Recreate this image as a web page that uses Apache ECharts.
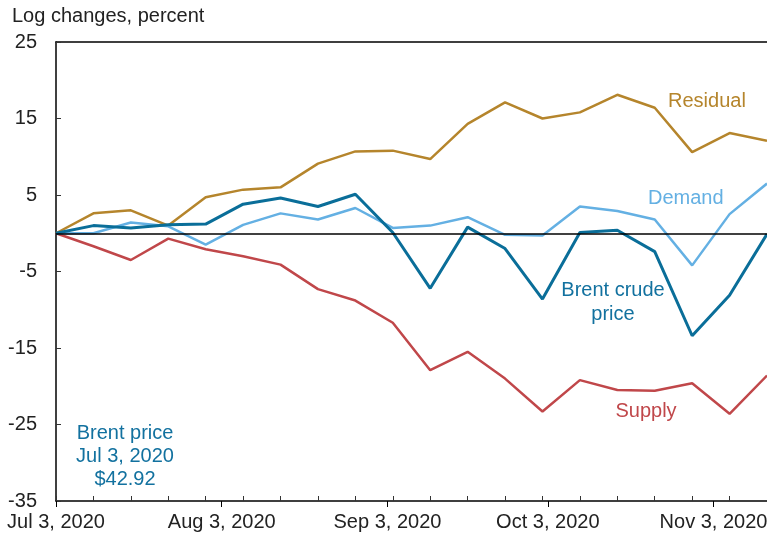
<!DOCTYPE html>
<html>
<head>
    <meta charset="utf-8">
    <title>Brent crude price decomposition</title>
    <script src="https://cdn.jsdelivr.net/npm/echarts@6/dist/echarts.min.js"></script>
    <style>
        html, body { margin: 0; padding: 0; background: #fff; }
        #main { width: 767px; height: 537px; }
    </style>
</head>
<body>
<div id="main"></div>
<script>
    // weekly observations (Fridays)
    var dates = ['2020-07-03', '2020-07-10', '2020-07-17', '2020-07-24', '2020-07-31',
        '2020-08-07', '2020-08-14', '2020-08-21', '2020-08-28', '2020-09-04',
        '2020-09-11', '2020-09-18', '2020-09-25', '2020-10-02', '2020-10-09',
        '2020-10-16', '2020-10-23', '2020-10-30', '2020-11-06', '2020-11-13'];
    var residual = [0, 2.6, 3.0, 1.0, 4.7, 5.7, 6.0, 9.1, 10.7, 10.8,
        9.7, 14.3, 17.1, 15.0, 15.8, 18.1, 16.4, 10.6, 13.1, 12.1];
    var demand = [0, 0, 1.4, 0.9, -1.5, 1.1, 2.6, 1.8, 3.3, 0.7,
        1.0, 2.1, -0.2, -0.3, 3.5, 2.9, 1.8, -4.2, 2.5, 6.5];
    var brent = [0, 1.0, 0.7, 1.1, 1.2, 3.8, 4.6, 3.5, 5.1, 0.1,
        -7.2, 0.8, -2.0, -8.6, 0.1, 0.4, -2.4, -13.4, -8.1, -0.1];
    var supply = [0, -1.7, -3.5, -0.7, -2.1, -3.0, -4.1, -7.3, -8.8, -11.7,
        -17.9, -15.5, -19.0, -23.3, -19.2, -20.5, -20.6, -19.6, -23.6, -18.6];
    var labelDates = ['2020-07-03', '2020-08-03', '2020-09-03', '2020-10-03', '2020-11-03'];

    var FONT = "'Liberation Sans', Arial, sans-serif";
    var monthNames = ['Jan', 'Feb', 'Mar', 'Apr', 'May', 'Jun', 'Jul', 'Aug', 'Sep', 'Oct', 'Nov', 'Dec'];
    var DAY = 86400000;

    function utc(s) {
        var p = s.split('-');
        return Date.UTC(+p[0], +p[1] - 1, +p[2]);
    }
    // x is measured in days from the first observation
    var t0 = utc(dates[0]);
    function dayNum(s) { return Math.round((utc(s) - t0) / DAY); }
    function pairs(arr) {
        return dates.map(function (d, i) { return [dayNum(d), arr[i]]; });
    }

    var weekDays = dates.map(dayNum);
    var labelDays = labelDates.map(dayNum);
    var xMin = weekDays[0], xMax = weekDays[weekDays.length - 1];

    function fmtDay(v) {
        var d = new Date(t0 + v * DAY);
        return monthNames[d.getUTCMonth()] + ' ' + d.getUTCDate() + ', ' + d.getUTCFullYear();
    }

    function lineSeries(name, arr, color, width) {
        return {
            name: name,
            type: 'line',
            xAxisIndex: 0,
            data: pairs(arr),
            showSymbol: false,
            symbol: 'none',
            color: color,
            lineStyle: { color: color, width: width },
            animation: false
        };
    }

    var chart = echarts.init(document.getElementById('main'));

    var series = [
        lineSeries('Supply', supply, '#C0474A', 2.5),
        lineSeries('Residual', residual, '#B5852C', 2.5),
        lineSeries('Demand', demand, '#64B0E3', 2.5),
        lineSeries('Brent crude price', brent, '#0A6E99', 3)
    ];
    // zero line
    series[3].markLine = {
        silent: true,
        symbol: 'none',
        label: { show: false },
        lineStyle: { color: '#000', width: 1.5, type: 'solid' },
        data: [{ yAxis: 0 }],
        animation: false
    };

    chart.setOption({
        animation: false,
        textStyle: { fontFamily: FONT },
        title: {
            text: 'Log changes, percent',
            left: 7,
            top: 1,
            textStyle: { fontSize: 20, fontWeight: 'normal', color: '#222', fontFamily: FONT }
        },
        grid: { left: 56, right: 0, top: 42, bottom: 36, containLabel: false, outerBoundsMode: 'none' },
        xAxis: [{
            type: 'value',
            position: 'bottom',
            min: xMin,
            max: xMax,
            axisLine: { onZero: false, lineStyle: { color: '#000', width: 1.5 } },
            axisTick: { show: true, customValues: labelDays, length: 6, lineStyle: { color: '#000', width: 1 } },
            axisLabel: {
                customValues: labelDays,
                fontSize: 20,
                color: '#222',
                margin: 11,
                fontFamily: FONT,
                formatter: fmtDay
            },
            splitLine: { show: false }
        }, {
            // weekly inner ticks
            type: 'value',
            position: 'bottom',
            min: xMin,
            max: xMax,
            axisLine: { show: false, onZero: false },
            axisTick: { show: true, inside: true, customValues: weekDays, length: 5, lineStyle: { color: '#333', width: 1 } },
            axisLabel: { show: false },
            splitLine: { show: false }
        }, {
            // top border
            type: 'value',
            position: 'top',
            min: xMin,
            max: xMax,
            axisLine: { show: true, onZero: false, lineStyle: { color: '#000', width: 1.5 } },
            axisTick: { show: false },
            axisLabel: { show: false },
            splitLine: { show: false }
        }],
        yAxis: {
            type: 'value',
            min: -35,
            max: 25,
            interval: 10,
            axisLine: { show: true, onZero: false, lineStyle: { color: '#000', width: 1.5 } },
            axisTick: { show: true, inside: true, length: 5, lineStyle: { color: '#333' } },
            axisLabel: { fontSize: 20, color: '#222', margin: 19, fontFamily: FONT },
            splitLine: { show: false }
        },
        series: series,
        graphic: [
            { type: 'text', left: 668, top: 91, style: { text: 'Residual', fill: '#B5852C', font: '20px ' + FONT } },
            { type: 'text', left: 648, top: 188, style: { text: 'Demand', fill: '#64B0E3', font: '20px ' + FONT } },
            { type: 'text', x: 613, y: 278, style: { text: 'Brent crude\nprice', fill: '#12719F', font: '20px ' + FONT, align: 'center', lineHeight: 24 } },
            { type: 'text', x: 646, y: 401, style: { text: 'Supply', fill: '#C0474A', font: '20px ' + FONT, align: 'center' } },
            { type: 'text', x: 125, y: 422, style: { text: 'Brent price\nJul 3, 2020\n$42.92', fill: '#12719F', font: '20px ' + FONT, align: 'center', lineHeight: 23 } }
        ]
    });
</script>
</body>
</html>
